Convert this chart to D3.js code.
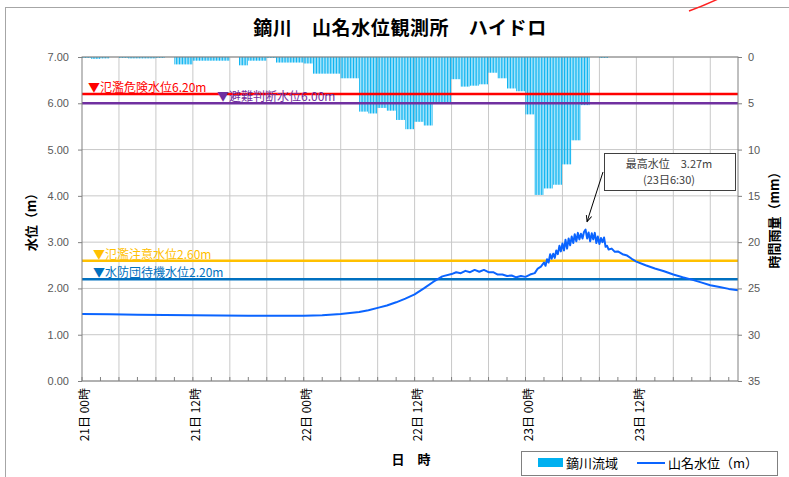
<!DOCTYPE html>
<html>
<head>
<meta charset="utf-8">
<script src="https://cdn.jsdelivr.net/npm/d3@7"></script>
<style>
body { margin: 0; background: #fff; }
text { font-family: "Noto Sans CJK JP", sans-serif; }
</style>
</head>
<body>
<div id="chart"></div>
<script>
// hourly rain (mm), hour 0 = 21日 00時
var rainValues = [0.1, 0.2, 0.15, 0, 0.1, 0.15, 0.15, 0.15, 0.1, 0,
	0.8, 0.8, 0.4, 0.4, 0.4, 0.4, 0, 0.9, 0.4, 0.4,
	0.1, 0.6, 0.6, 0.6, 0.7, 1.8, 1.8, 1.8, 2.3, 2.3,
	5.9, 6.1, 5.5, 5.8, 6.8, 7.8, 7.0, 7.4, 5.0, 5.0,
	2.4, 3.2, 3.1, 2.95, 1.7, 2.3, 3.4, 3.7, 6.2, 14.9,
	14.2, 13.8, 11.6, 9.0, 5.2, 0, 0.1, 0, 0, 0,
	0, 0, 0, 0, 0, 0, 0, 0, 0, 0, 0];

// water level (m) at hours from 21日 00時
var levelHours = [0, 3, 6, 12, 18, 24, 26, 28, 30, 31, 32, 33, 34, 35, 36, 37, 38, 39, 40,
	40.5, 41, 41.5, 42, 42.5, 43, 43.5, 44, 44.5, 45, 45.5, 46, 46.5, 47, 47.5, 48, 48.5, 49,
	49.33, 49.67, 50, 50.17, 50.33, 50.5, 50.67, 50.83, 51, 51.17, 51.33, 51.5, 51.67, 51.83,
	52, 52.17, 52.33, 52.5, 52.67, 52.83, 53, 53.17, 53.33, 53.5, 53.67, 53.83,
	54, 54.17, 54.33, 54.5, 54.67, 54.83, 55, 55.17, 55.33, 55.5, 55.67, 55.83,
	56, 56.17, 56.33, 56.5, 56.67, 56.83, 57, 57.33, 57.67, 58, 58.5, 59, 59.5, 60,
	61, 62, 63, 64, 65, 66, 67, 68, 69, 70, 71];
var levelValues = [1.45, 1.44, 1.43, 1.42, 1.41, 1.41, 1.42, 1.45, 1.49, 1.53, 1.58, 1.63, 1.70, 1.78, 1.87, 2.00, 2.14, 2.26, 2.31,
	2.35, 2.33, 2.38, 2.35, 2.40, 2.36, 2.40, 2.35, 2.35, 2.30, 2.30, 2.27, 2.28, 2.24, 2.27, 2.25, 2.30, 2.33,
	2.43, 2.47, 2.56, 2.49, 2.63, 2.56, 2.74, 2.64, 2.75, 2.66, 2.82, 2.74, 2.92, 2.80,
	2.97, 2.82, 3.05, 2.86, 3.08, 2.93, 3.12, 2.98, 3.17, 3.02, 3.20, 3.06,
	3.18, 3.08, 3.22, 3.27, 3.08, 3.21, 3.02, 3.19, 3.06, 3.20, 2.98, 3.12,
	2.96, 3.09, 3.00, 3.10, 2.90, 2.92, 2.84, 2.86, 2.79, 2.80, 2.74, 2.71, 2.64, 2.58,
	2.50, 2.43, 2.37, 2.30, 2.24, 2.19, 2.13, 2.07, 2.03, 1.99, 1.96];

var levelTicks = [0, 1, 2, 3, 4, 5, 6, 7];
var rainTicks = [0, 5, 10, 15, 20, 25, 30, 35];
var labelHours = [0, 12, 24, 36, 48, 60];
var labelTexts = ["21日 00時", "21日 12時", "22日 00時", "22日 12時", "23日 00時", "23日 12時"];

var thresholdNames = ["氾濫危険水位", "避難判断水位", "氾濫注意水位", "水防団待機水位"];
var thresholdValues = [6.20, 6.00, 2.60, 2.20];

var W = 789, H = 477;
var plot = { left: 82, right: 738, top: 57, bottom: 381 };
var thresholdColors = ["#FF0000", "#7030A0", "#FFC000", "#0070C0"];
var thresholdLabelX = [88, 217, 93, 93];
var rainColor = "#00B0F0",
	lineColor = "#0A64FF";

var svg = d3.select("#chart").append("svg")
	.attr("width", W)
	.attr("height", H);

svg.append("rect").attr("width", W).attr("height", H).attr("fill", "#fff");

// outer chart frame
svg.append("rect")
	.attr("x", 5.5).attr("y", 7.5)
	.attr("width", W).attr("height", H)
	.attr("fill", "none").attr("stroke", "#A6A6A6");

// stray red stroke top-right
svg.append("path")
	.attr("d", "M689,11 Q703,6 718,-1")
	.attr("fill", "none").attr("stroke", "#FF2020").attr("stroke-width", 1.5);

var x = d3.scaleLinear().domain([0, 71]).range([plot.left, plot.right]);
var y = d3.scaleLinear().domain([0, 7]).range([plot.bottom, plot.top]);
var yR = d3.scaleLinear().domain([0, 35]).range([plot.top, plot.bottom]);

// title
svg.append("text")
	.attr("x", 400).attr("y", 35)
	.attr("text-anchor", "middle")
	.attr("font-size", 19).attr("font-weight", "bold")
	.attr("letter-spacing", 0.6)
	.attr("fill", "#000")
	.text("鏑川　山名水位観測所　ハイドロ");

// grid
svg.append("g").selectAll("line.h")
	.data(levelTicks)
	.enter().append("line")
	.attr("x1", plot.left).attr("x2", plot.right)
	.attr("y1", function(d) { return y(d); })
	.attr("y2", function(d) { return y(d); })
	.attr("stroke", "#C8C8C8");

svg.append("g").selectAll("line.v")
	.data(d3.range(4, 71, 4))
	.enter().append("line")
	.attr("x1", function(d) { return x(d); })
	.attr("x2", function(d) { return x(d); })
	.attr("y1", plot.top).attr("y2", plot.bottom)
	.attr("stroke", "#C8C8C8");

// rain bars, drawn as 10 minute slices of each hour
var rainSlices = [];
rainValues.forEach(function(v, h) {
	if (v <= 0) return;
	for (var k = 0; k < 6; k++) rainSlices.push({ t: h + k / 6, v: v });
});
var sliceW = x(1 / 6) - x(0);
svg.append("g").selectAll("rect")
	.data(rainSlices)
	.enter().append("rect")
	.attr("x", function(d) { return x(d.t); })
	.attr("y", yR(0))
	.attr("width", sliceW - 0.6)
	.attr("height", function(d) { return yR(d.v) - yR(0); })
	.attr("fill", rainColor);

// thresholds
thresholdValues.forEach(function(v, i) {
	svg.append("line")
		.attr("x1", plot.left).attr("x2", plot.right)
		.attr("y1", y(v)).attr("y2", y(v))
		.attr("stroke", thresholdColors[i]).attr("stroke-width", 2.5);
	svg.append("text")
		.attr("x", thresholdLabelX[i]).attr("y", y(v) - 2)
		.attr("font-size", 12)
		.attr("fill", thresholdColors[i])
		.text("▼" + thresholdNames[i] + d3.format(".2f")(v) + "m");
});

// water level line
var levelData = levelHours.map(function(h, i) { return [h, levelValues[i]]; });
svg.append("path")
	.datum(levelData)
	.attr("fill", "none")
	.attr("stroke", lineColor)
	.attr("stroke-width", 2)
	.attr("stroke-linejoin", "round")
	.attr("d", d3.line()
		.x(function(d) { return x(d[0]); })
		.y(function(d) { return y(d[1]); }));

// plot border
svg.append("rect")
	.attr("x", plot.left).attr("y", plot.top)
	.attr("width", plot.right - plot.left).attr("height", plot.bottom - plot.top)
	.attr("fill", "none").attr("stroke", "#808080");

// left axis
var gl = svg.append("g").attr("transform", "translate(" + plot.left + ",0)")
	.call(d3.axisLeft(y).tickValues(levelTicks).tickFormat(d3.format(".2f")).tickSize(4));
gl.select(".domain").remove();
gl.selectAll("line").attr("stroke", "#808080");
gl.selectAll("text").attr("font-size", 11).attr("fill", "#595959")
	.style("font-family", "'Liberation Sans', sans-serif").attr("dx", -6);

// right axis
var gr = svg.append("g").attr("transform", "translate(" + plot.right + ",0)")
	.call(d3.axisRight(yR).tickValues(rainTicks).tickSize(4));
gr.select(".domain").remove();
gr.selectAll("line").attr("stroke", "#808080");
gr.selectAll("text").attr("font-size", 11).attr("fill", "#595959")
	.style("font-family", "'Liberation Sans', sans-serif").attr("dx", 3);

// bottom ticks every 2 hours, inside
svg.append("g").selectAll("line")
	.data(d3.range(0, 72, 2))
	.enter().append("line")
	.attr("x1", function(d) { return x(d); })
	.attr("x2", function(d) { return x(d); })
	.attr("y1", plot.bottom).attr("y2", plot.bottom - 4)
	.attr("stroke", "#808080");

// x labels
svg.append("g").selectAll("text")
	.data(labelHours)
	.enter().append("text")
	.attr("transform", function(d) { return "translate(" + (x(d) + 3) + "," + (plot.bottom + 7) + ") rotate(-90)"; })
	.attr("text-anchor", "end")
	.attr("dy", "0.35em")
	.attr("font-size", 12)
	.attr("fill", "#000")
	.text(function(d, i) { return labelTexts[i]; });

svg.append("text")
	.attr("x", 411).attr("y", 464)
	.attr("text-anchor", "middle")
	.attr("font-size", 13).attr("font-weight", "bold")
	.text("日　時");

svg.append("text")
	.attr("transform", "translate(36,219) rotate(-90)")
	.attr("text-anchor", "middle")
	.attr("font-size", 13).attr("font-weight", "bold")
	.text("水位（m）");

svg.append("text")
	.attr("transform", "translate(779,217) rotate(-90)")
	.attr("text-anchor", "middle")
	.attr("font-size", 13).attr("font-weight", "bold")
	.text("時間雨量（mm）");

// peak annotation
var peakIdx = d3.maxIndex(levelValues),
	peakH = levelHours[peakIdx],
	peakV = levelValues[peakIdx];
var peakDay = 21 + Math.floor(peakH / 24),
	peakHr = Math.floor(peakH % 24),
	peakMin = Math.round((peakH % 1) * 60);
svg.append("rect")
	.attr("x", 604.5).attr("y", 153.5)
	.attr("width", 131).attr("height", 37)
	.attr("fill", "#fff").attr("stroke", "#404040");
svg.append("text")
	.attr("x", 669).attr("y", 168)
	.attr("text-anchor", "middle")
	.attr("font-size", 11).attr("fill", "#404040")
	.text("最高水位　" + peakV.toFixed(2) + "m");
svg.append("text")
	.attr("x", 669).attr("y", 184)
	.attr("text-anchor", "middle")
	.attr("font-size", 11).attr("fill", "#404040")
	.text("(" + peakDay + "日" + peakHr + ":" + d3.format("02")(peakMin) + ")");

svg.append("defs").append("marker")
	.attr("id", "arr")
	.attr("viewBox", "0 0 10 10")
	.attr("refX", 9).attr("refY", 5)
	.attr("markerWidth", 7).attr("markerHeight", 7)
	.attr("orient", "auto")
	.append("path").attr("d", "M0,1 L9,5 L0,9").attr("fill", "none").attr("stroke", "#000").attr("stroke-width", 1.3);

svg.append("line")
	.attr("x1", 603).attr("y1", 172)
	.attr("x2", x(peakH) + 1.5).attr("y2", y(peakV) - 8)
	.attr("stroke", "#000").attr("stroke-width", 1)
	.attr("marker-end", "url(#arr)");

// legend
var lg = svg.append("g");
lg.append("rect")
	.attr("x", 521.5).attr("y", 451.5)
	.attr("width", 256).attr("height", 24)
	.attr("fill", "#fff").attr("stroke", "#808080");
lg.append("rect")
	.attr("x", 538).attr("y", 458).attr("width", 25).attr("height", 9)
	.attr("fill", rainColor);
lg.append("text").attr("x", 566).attr("y", 468).attr("font-size", 13).text("鏑川流域");
lg.append("line")
	.attr("x1", 637).attr("x2", 665).attr("y1", 463).attr("y2", 463)
	.attr("stroke", lineColor).attr("stroke-width", 2);
lg.append("text").attr("x", 668).attr("y", 468).attr("font-size", 13).text("山名水位（m）");
</script>
</body>
</html>
